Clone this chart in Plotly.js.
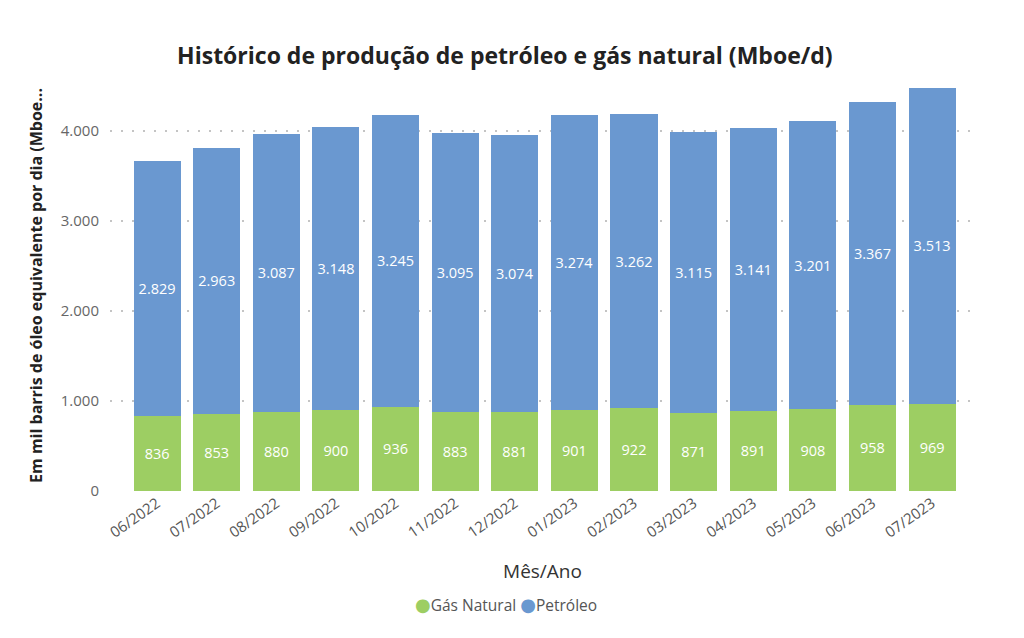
<!DOCTYPE html>
<html>
<head>
<meta charset="utf-8">
<script src="https://cdn.plot.ly/plotly-3.0.1.min.js"></script>
<style>
    html, body { margin: 0; padding: 0; background: #fff; }
    #chart { width: 1024px; height: 638px; }
</style>
</head>
<body>
<div id="chart"></div>
<script>
// Monthly production, thousand boe per day
const months = [
    "06/2022", "07/2022", "08/2022", "09/2022", "10/2022", "11/2022", "12/2022",
    "01/2023", "02/2023", "03/2023", "04/2023", "05/2023", "06/2023", "07/2023",
];
const gasNatural = [836, 853, 880, 900, 936, 883, 881, 901, 922, 871, 891, 908, 958, 969];
const petroleo = [2829, 2963, 3087, 3148, 3245, 3095, 3074, 3274, 3262, 3115, 3141, 3201, 3367, 3513];
const yTicks = [0, 1000, 2000, 3000, 4000];

const green = "#9dce63";
const blue = "#6a98d0";
const font = "'Open Sans', 'Noto Sans', sans-serif";

function barTrace(name, values, color) {
    return {
        type: "bar",
        name: name,
        x: months,
        y: values,
        marker: { color: color },
        texttemplate: "%{y:,.0f}",
        textposition: "inside",
        insidetextanchor: "middle",
        textangle: 0,
        textfont: { color: "#fff", size: 14.5, family: font },
        hoverinfo: "x+y+name",
    };
}

const data = [
    barTrace("Gás Natural", gasNatural, green),
    barTrace("Petróleo", petroleo, blue),
];

// Legend drawn as a text line so the round markers sit close to the labels
const dot = color =>
    `<span style="color:${color};font-size:18px;font-family:'DejaVu Sans'">●</span>`;
const legendText = `${dot(green)}Gás Natural ${dot(blue)}Petróleo`;

const layout = {
    width: 1024,
    height: 638,
    barmode: "stack",
    bargap: 0.21,
    separators: ",.",
    showlegend: false,
    paper_bgcolor: "#fff",
    plot_bgcolor: "#fff",
    font: { family: font, color: "#555" },
    margin: { l: 110, r: 49, t: 80, b: 147 },
    title: {
        text: "<b>Histórico de produção de petróleo e gás natural (Mboe/d)</b>",
        font: { size: 23, color: "#222", family: font },
        x: 0.493, xanchor: "center",
        y: 0.912, yanchor: "middle",
    },
    xaxis: {
        type: "category",
        range: [-0.79, 13.72],
        tickangle: -35,
        tickfont: { size: 15, color: "#555" },
        showgrid: false,
        zeroline: false,
        showline: false,
        ticks: "",
        title: {
            text: "Mês/Ano",
            font: { size: 19, color: "#333" },
            standoff: 24,
        },
    },
    yaxis: {
        range: [0, 4567],
        tickvals: yTicks,
        tickformat: ",.0f",
        tickfont: { size: 15, color: "#666" },
        ticklabelstandoff: 10,
        showgrid: true,
        gridcolor: "#c4c4c4",
        griddash: "2px,9px",
        gridwidth: 1.2,
        zeroline: false,
        showline: false,
        ticks: "",
        title: {
            text: "<b>Em mil barris de óleo equivalente por dia (Mboe...</b>",
            font: { size: 16, color: "#222" },
            standoff: 14,
        },
    },
    annotations: [{
        text: legendText,
        xref: "paper", yref: "paper",
        x: 0.458, y: -0.277,
        xanchor: "center", yanchor: "middle",
        showarrow: false,
        font: { size: 15.5, color: "#555", family: font },
    }],
};

Plotly.newPlot("chart", data, layout, { displayModeBar: false, staticPlot: true });
</script>
</body>
</html>
